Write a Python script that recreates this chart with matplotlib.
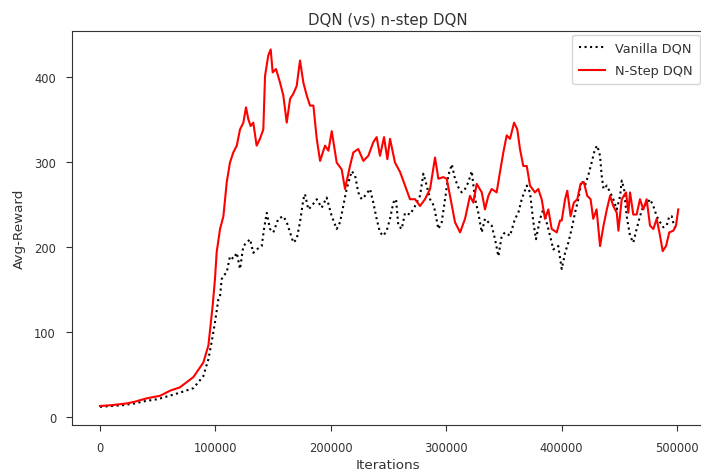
import matplotlib
matplotlib.use("Agg")
import matplotlib.pyplot as plt

# Vanilla DQN (iterations, avg reward)
vanilla_it = [0, 10000, 20000, 30000, 40000, 50000, 60000, 70000, 80900, 89500,
              93900, 96700, 99600, 102500, 104000, 105400, 106900, 109800, 112600, 115500,
              118500, 121300, 124200, 127100, 130000, 132800, 135700, 140100, 142100, 144500,
              147300, 150200, 154500, 158800, 161800, 164700, 167500, 170400, 173300, 176200,
              177600, 180500, 183400, 187800, 192100, 196400, 200800, 205100, 208000, 210800,
              213700, 218100, 221000, 223800, 226700, 229600, 234000, 236800, 239700, 242600,
              245500, 248400, 251300, 254200, 256500, 258500, 261400, 264300, 268600, 273000,
              277300, 280200, 283100, 286000, 289400, 293200, 296100, 299000, 301800, 304800,
              307600, 310500, 313400, 316300, 319200, 322100, 325000, 327800, 330800, 333600,
              336500, 339400, 342300, 345200, 348100, 351000, 355300, 359600, 362500, 365400,
              369800, 372600, 375500, 377800, 381300, 384100, 387000, 390000, 392800, 397100,
              400100, 403000, 405800, 408700, 411600, 414500, 417400, 420300, 423100, 426000,
              428900, 430900, 433300, 434700, 436300, 439200, 442000, 444800, 447800, 450700,
              452100, 454100, 456400, 459300, 462100, 465000, 467900, 470800, 473700, 476600,
              479500, 482400, 485300, 488100, 491000, 493300, 495400, 497400, 499100]
vanilla_r = [12, 13, 14, 16, 19, 21, 25, 29, 34, 48,
             68, 88, 111, 138, 142, 162, 166, 170, 189, 186,
             193, 174, 201, 205, 209, 193, 197, 201, 221, 240,
             221, 217, 233, 236, 229, 217, 205, 209, 229, 256,
             262, 244, 248, 256, 246, 258, 236, 221, 229, 248,
             268, 289, 284, 264, 256, 260, 268, 252, 233, 217,
             213, 219, 233, 252, 256, 225, 221, 240, 238, 248,
             260, 286, 272, 256, 248, 221, 229, 256, 284, 297,
             280, 270, 264, 268, 276, 289, 256, 240, 217, 233,
             229, 225, 209, 189, 213, 217, 213, 233, 240, 256,
             272, 264, 229, 209, 233, 244, 229, 213, 197, 201,
             174, 193, 205, 221, 240, 256, 278, 272, 284, 299,
             315, 319, 307, 284, 268, 272, 264, 256, 244, 260,
             278, 268, 236, 213, 205, 221, 236, 248, 250, 256,
             248, 236, 229, 223, 225, 236, 236, 225, 221]

# N-Step DQN (iterations, avg reward)
nstep_it = [0, 10000, 23100, 30000, 40500, 52000, 60700, 69300, 80900, 89500,
            93900, 97600, 99600, 101100, 104000, 106900, 109800, 112600, 115500, 118500,
            121300, 124200, 126500, 128500, 130500, 132800, 135700, 138600, 141500, 143000,
            145800, 147900, 149600, 152500, 156000, 158800, 161800, 164700, 167500, 170400,
            173300, 176200, 179100, 182000, 184900, 187800, 190700, 195000, 197900, 200800,
            205100, 209400, 212300, 216600, 219500, 223800, 228200, 232500, 236800, 239700,
            242600, 246100, 249000, 251300, 255600, 260000, 264300, 268600, 273000, 277300,
            281600, 286000, 290300, 293200, 297500, 300400, 303300, 307600, 312000, 316300,
            320600, 323500, 326400, 330800, 333600, 336500, 339400, 343700, 346600, 349500,
            352400, 355300, 358800, 361600, 363900, 366800, 369800, 372600, 376900, 379800,
            382700, 385600, 388500, 391400, 395800, 398600, 400100, 403000, 404900, 407800,
            410600, 413600, 416400, 419300, 422200, 425100, 427400, 430300, 433300, 436300,
            439200, 442000, 444800, 447800, 449200, 452100, 455800, 457800, 459300, 462100,
            465000, 467900, 470800, 473700, 476600, 479500, 482400, 485300, 487600, 490500,
            493300, 496800, 499100, 501100]
nstep_r = [13, 14, 16, 18, 22, 25, 31, 35, 47, 64,
           84, 131, 162, 194, 221, 236, 276, 299, 311, 319,
           338, 346, 364, 350, 342, 346, 319, 327, 338, 401,
           425, 432, 405, 409, 393, 378, 346, 374, 380, 389,
           419, 393, 378, 366, 366, 327, 301, 319, 313, 336,
           299, 291, 268, 295, 311, 315, 301, 307, 323, 329,
           307, 329, 303, 327, 299, 288, 272, 256, 256, 248,
           256, 268, 305, 280, 282, 280, 260, 229, 217, 233,
           260, 252, 274, 264, 244, 260, 268, 264, 288, 311,
           331, 327, 346, 338, 315, 295, 295, 272, 264, 268,
           256, 233, 244, 221, 217, 231, 231, 256, 266, 236,
           252, 256, 274, 276, 260, 256, 233, 244, 201, 225,
           244, 260, 248, 240, 219, 256, 264, 240, 264, 238,
           238, 256, 244, 256, 225, 221, 233, 213, 195, 201,
           217, 219, 225, 244]

fig = plt.figure(figsize=(7.01, 4.77), dpi=100)
# правый край осей чуть за пределами картинки, как в оригинале
ax = fig.add_axes([0.1027, 0.1075, 0.9016, 0.826])

ax.plot(vanilla_it, vanilla_r, color='k', linestyle=':', lw=1.5, label='Vanilla DQN')
ax.plot(nstep_it, nstep_r, color='red', linestyle='-', lw=1.5, label='N-Step DQN')

ax.set_xlim(-24300, 523400)
ax.set_ylim(-9, 454)
ax.set_xticks([0, 100000, 200000, 300000, 400000, 500000])
ax.set_yticks([0, 100, 200, 300, 400])
ax.tick_params(labelsize=8.3, colors='#333333', labelcolor='#333333', length=4, pad=7.5)
for s in ax.spines.values():
    s.set_color('#333333')

ax.set_title("DQN (vs) n-step DQN", fontsize=10.8, color='#333333', pad=5)
ax.set_xlabel("Iterations", fontsize=9.7, color='#333333', labelpad=3)
ax.set_ylabel("Avg-Reward", fontsize=9.7, color='#333333', labelpad=6)
ax.legend(loc='upper right', fontsize=9.3, labelcolor='#333333', borderaxespad=0.3,
          labelspacing=0.75, borderpad=0.55)

fig.savefig("out.png", dpi=100)
